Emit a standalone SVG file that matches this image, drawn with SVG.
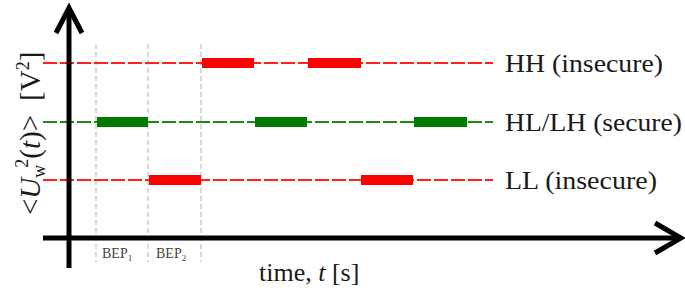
<svg xmlns="http://www.w3.org/2000/svg" width="685" height="290" viewBox="0 0 685 290">
<style>
.ax{stroke:#000;stroke-width:5;fill:none}
.grid{stroke:#c0c0c0;stroke-width:1.2;stroke-dasharray:5 3}
.dr{stroke:#ff2020;stroke-width:2;stroke-dasharray:14 3}
.dg{stroke:#1a8a1a;stroke-width:2;stroke-dasharray:14 3}
.br{fill:#ff0000}
.bg{fill:#007a00}
text{font-family:"Liberation Serif","Times New Roman",serif;fill:#1a1a1a}
.lab{font-size:26px}
.yl{font-size:29px}
.bep{font-size:14px;fill:#444}
</style>
<rect width="685" height="290" fill="#fff"/>
<g id="grid">
<line class="grid" x1="96" y1="44" x2="96" y2="262"/>
<line class="grid" x1="148" y1="44" x2="148" y2="262"/>
<line class="grid" x1="201" y1="44" x2="201" y2="262"/>
</g>
<g id="connectors">
<line class="dr" x1="43" y1="63" x2="493" y2="63"/>
<line class="dg" x1="43" y1="122" x2="493" y2="122"/>
<line class="dr" x1="43" y1="180" x2="493" y2="180"/>
</g>
<g id="bars">
<rect class="br" x="202" y="58" width="52" height="10"/>
<rect class="br" x="308" y="58" width="53" height="10"/>
<rect class="bg" x="97" y="117" width="51" height="10"/>
<rect class="bg" x="255" y="117" width="52" height="10"/>
<rect class="bg" x="414" y="117" width="53" height="10"/>
<rect class="br" x="149" y="175" width="52" height="10"/>
<rect class="br" x="361" y="175" width="52" height="10"/>
</g>
<g id="axes">
<line class="ax" x1="69" y1="8" x2="69" y2="268"/>
<polyline class="ax" points="56,33 69,8 82,33"/>
<line class="ax" x1="43" y1="238" x2="681" y2="238"/>
<polyline class="ax" points="655,223 681,238 655,253"/>
</g>
<g id="labels">
<text class="lab" x="505" y="72" textLength="158" lengthAdjust="spacingAndGlyphs">HH (insecure)</text>
<text class="lab" x="505" y="131" textLength="177" lengthAdjust="spacingAndGlyphs">HL/LH (secure)</text>
<text class="lab" x="505" y="189" textLength="152" lengthAdjust="spacingAndGlyphs">LL (insecure)</text>
<text class="lab" x="259" y="281">time, <tspan font-style="italic">t</tspan> [s]</text>
<text class="bep" x="102" y="258">BEP<tspan font-size="9" dy="3">1</tspan></text>
<text class="bep" x="156" y="258">BEP<tspan font-size="9" dy="3">2</tspan></text>
<text class="yl" transform="translate(40,215) rotate(-90)">&lt;<tspan font-style="italic">U</tspan><tspan font-size="18" dy="5">w</tspan><tspan font-size="18" dx="-3" dy="-17">2</tspan><tspan dy="12">(</tspan><tspan font-style="italic">t</tspan>)&gt;<tspan dx="14">[V</tspan><tspan font-size="18" dy="-11">2</tspan><tspan dy="11">]</tspan></text>
</g>
</svg>
